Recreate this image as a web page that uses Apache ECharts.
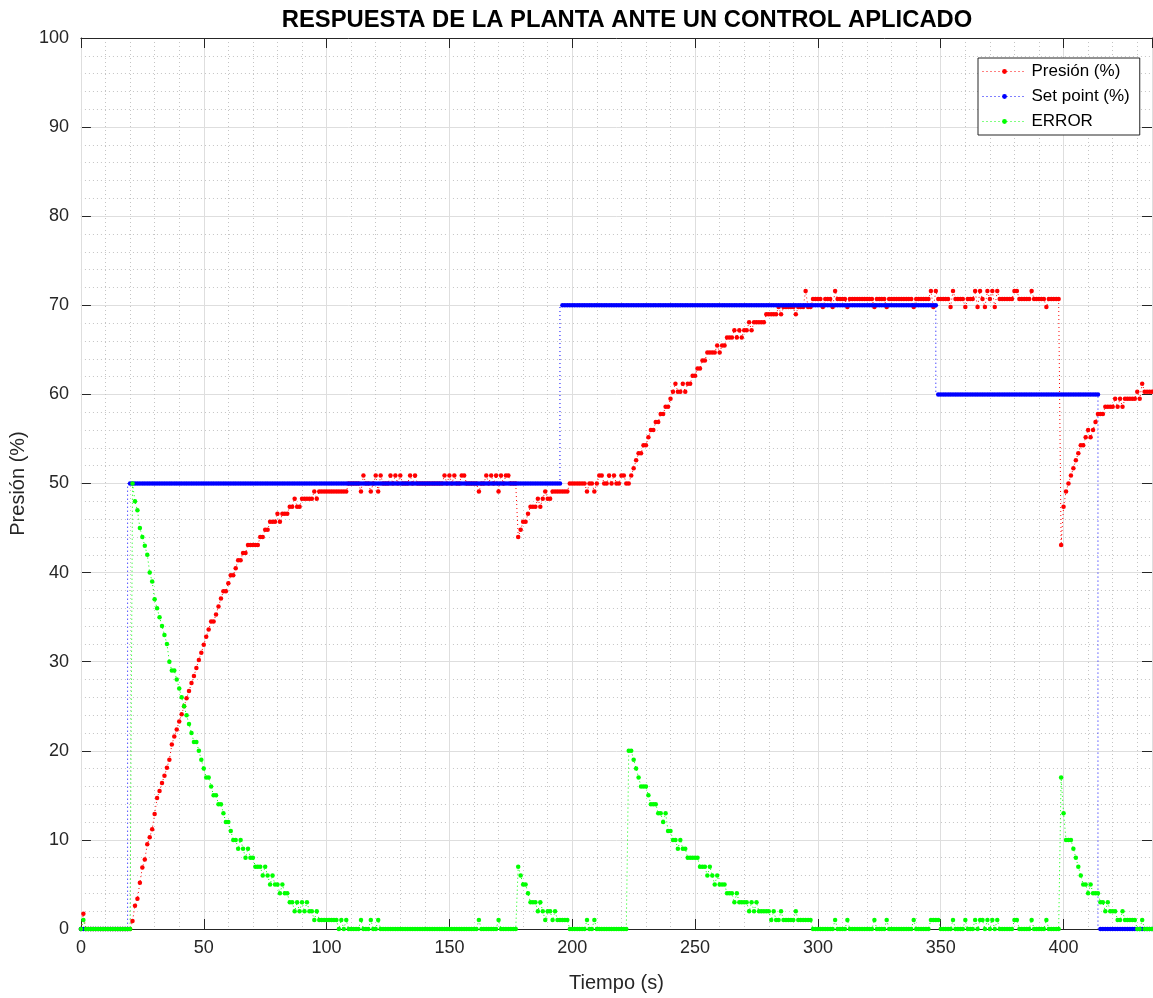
<!DOCTYPE html>
<html lang="es">
<head>
<meta charset="utf-8">
<title>Respuesta de la planta ante un control aplicado</title>
<script src="https://cdn.jsdelivr.net/npm/echarts@6/dist/echarts.min.js"></script>
<style>
  html, body { margin: 0; padding: 0; background: #ffffff; }
  #chart { width: 1153px; height: 998px; }
</style>
</head>
<body>
<div id="chart"></div>
<script>
// Sampling grid of the log: one sample per second, starting at t = 0 s
const T0 = 0;
const DT = 1;

// Measured plant pressure (%), one value per sample
const presion = [
  0, 1.7, 0, 0, 0, 0, 0, 0, 0, 0,
  0, 0, 0, 0, 0, 0, 0, 0, 0, 0,
  0, 0.9, 2.6, 3.4, 5.2, 6.9, 7.8, 9.5, 10.3, 11.2,
  12.9, 14.7, 15.5, 16.4, 17.2, 18.1, 19.0, 20.7, 21.6, 22.4,
  23.3, 24.1, 25.0, 25.9, 26.7, 27.6, 28.4, 29.3, 30.2, 31.0,
  31.9, 32.8, 33.6, 34.5, 34.5, 35.3, 36.2, 37.1, 37.9, 37.9,
  38.8, 39.7, 39.7, 40.5, 41.4, 41.4, 42.2, 42.2, 43.1, 43.1,
  43.1, 43.1, 43.1, 44.0, 44.0, 44.8, 44.8, 45.7, 45.7, 45.7,
  46.6, 45.7, 46.6, 46.6, 46.6, 47.4, 47.4, 48.3, 47.4, 47.4,
  48.3, 48.3, 48.3, 48.3, 48.3, 49.1, 48.3, 49.1, 49.1, 49.1,
  49.1, 49.1, 49.1, 49.1, 49.1, 49.1, 49.1, 49.1, 49.1, 50.0,
  50.0, 50.0, 50.0, 50.0, 49.1, 50.9, 50.0, 50.0, 49.1, 50.0,
  50.9, 49.1, 50.9, 50.0, 50.0, 50.0, 50.9, 50.0, 50.9, 50.0,
  50.9, 50.0, 50.0, 50.0, 50.9, 50.0, 50.9, 50.0, 50.0, 50.0,
  50.0, 50.0, 50.0, 50.0, 50.0, 50.0, 50.0, 50.0, 50.9, 50.0,
  50.9, 50.0, 50.9, 50.0, 50.0, 50.9, 50.9, 50.0, 50.0, 50.0,
  50.0, 50.0, 49.1, 50.0, 50.0, 50.9, 50.0, 50.9, 50.0, 50.9,
  49.1, 50.9, 50.0, 50.9, 50.9, 50.0, 50.0, 50.0, 44.0, 44.8,
  45.7, 45.7, 46.6, 47.4, 47.4, 47.4, 48.3, 47.4, 48.3, 49.1,
  48.3, 48.3, 49.1, 49.1, 49.1, 49.1, 49.1, 49.1, 49.1, 50.0,
  50.0, 50.0, 50.0, 50.0, 50.0, 50.0, 49.1, 50.0, 50.0, 49.1,
  50.0, 50.9, 50.9, 50.0, 50.0, 50.9, 50.0, 50.9, 50.0, 50.0,
  50.9, 50.9, 50.0, 50.0, 50.9, 51.7, 52.6, 53.4, 53.4, 54.3,
  54.3, 55.2, 56.0, 56.0, 56.9, 56.9, 57.8, 57.8, 58.6, 58.6,
  59.5, 60.3, 61.2, 60.3, 60.3, 61.2, 60.3, 61.2, 61.2, 62.1,
  62.1, 62.9, 62.9, 63.8, 63.8, 64.7, 64.7, 64.7, 64.7, 65.5,
  64.7, 65.5, 65.5, 66.4, 66.4, 66.4, 67.2, 66.4, 67.2, 66.4,
  67.2, 67.2, 68.1, 67.2, 68.1, 68.1, 68.1, 68.1, 68.1, 69.0,
  69.0, 69.0, 69.0, 69.0, 69.8, 69.0, 69.8, 69.8, 69.8, 69.8,
  69.8, 69.0, 69.8, 69.8, 69.8, 71.6, 69.8, 69.8, 70.7, 70.7,
  70.7, 70.7, 69.8, 70.7, 70.7, 70.7, 69.8, 71.6, 70.7, 70.7,
  70.7, 70.7, 69.8, 70.7, 70.7, 70.7, 70.7, 70.7, 70.7, 70.7,
  70.7, 70.7, 70.7, 69.8, 70.7, 70.7, 70.7, 70.7, 69.8, 70.7,
  70.7, 70.7, 70.7, 70.7, 70.7, 70.7, 70.7, 70.7, 70.7, 69.8,
  70.7, 70.7, 70.7, 70.7, 70.7, 70.7, 71.6, 69.8, 71.6, 70.7,
  70.7, 70.7, 70.7, 70.7, 69.8, 71.6, 70.7, 70.7, 70.7, 70.7,
  69.8, 70.7, 70.7, 70.7, 71.6, 69.8, 71.6, 70.7, 69.8, 71.6,
  70.7, 71.6, 69.8, 71.6, 70.7, 70.7, 70.7, 70.7, 70.7, 70.7,
  71.6, 71.6, 70.7, 70.7, 70.7, 70.7, 70.7, 71.6, 70.7, 70.7,
  70.7, 70.7, 70.7, 69.8, 70.7, 70.7, 70.7, 70.7, 70.7, 43.1,
  47.4, 49.1, 50.0, 50.9, 51.7, 52.6, 53.4, 54.3, 54.3, 55.2,
  56.0, 55.2, 56.0, 56.9, 57.8, 57.8, 57.8, 58.6, 58.6, 58.6,
  58.6, 59.5, 58.6, 59.5, 58.6, 59.5, 59.5, 59.5, 59.5, 59.5,
  60.3, 59.5, 61.2, 60.3, 60.3, 60.3, 60.3
];

// Set point (%), one value per sample
const setPoint = [
  0, 0, 0, 0, 0, 0, 0, 0, 0, 0,
  0, 0, 0, 0, 0, 0, 0, 0, 0, 0,
  50, 50, 50, 50, 50, 50, 50, 50, 50, 50,
  50, 50, 50, 50, 50, 50, 50, 50, 50, 50,
  50, 50, 50, 50, 50, 50, 50, 50, 50, 50,
  50, 50, 50, 50, 50, 50, 50, 50, 50, 50,
  50, 50, 50, 50, 50, 50, 50, 50, 50, 50,
  50, 50, 50, 50, 50, 50, 50, 50, 50, 50,
  50, 50, 50, 50, 50, 50, 50, 50, 50, 50,
  50, 50, 50, 50, 50, 50, 50, 50, 50, 50,
  50, 50, 50, 50, 50, 50, 50, 50, 50, 50,
  50, 50, 50, 50, 50, 50, 50, 50, 50, 50,
  50, 50, 50, 50, 50, 50, 50, 50, 50, 50,
  50, 50, 50, 50, 50, 50, 50, 50, 50, 50,
  50, 50, 50, 50, 50, 50, 50, 50, 50, 50,
  50, 50, 50, 50, 50, 50, 50, 50, 50, 50,
  50, 50, 50, 50, 50, 50, 50, 50, 50, 50,
  50, 50, 50, 50, 50, 50, 50, 50, 50, 50,
  50, 50, 50, 50, 50, 50, 50, 50, 50, 50,
  50, 50, 50, 50, 50, 50, 70, 70, 70, 70,
  70, 70, 70, 70, 70, 70, 70, 70, 70, 70,
  70, 70, 70, 70, 70, 70, 70, 70, 70, 70,
  70, 70, 70, 70, 70, 70, 70, 70, 70, 70,
  70, 70, 70, 70, 70, 70, 70, 70, 70, 70,
  70, 70, 70, 70, 70, 70, 70, 70, 70, 70,
  70, 70, 70, 70, 70, 70, 70, 70, 70, 70,
  70, 70, 70, 70, 70, 70, 70, 70, 70, 70,
  70, 70, 70, 70, 70, 70, 70, 70, 70, 70,
  70, 70, 70, 70, 70, 70, 70, 70, 70, 70,
  70, 70, 70, 70, 70, 70, 70, 70, 70, 70,
  70, 70, 70, 70, 70, 70, 70, 70, 70, 70,
  70, 70, 70, 70, 70, 70, 70, 70, 70, 70,
  70, 70, 70, 70, 70, 70, 70, 70, 70, 70,
  70, 70, 70, 70, 70, 70, 70, 70, 70, 70,
  70, 70, 70, 70, 70, 70, 70, 70, 70, 60,
  60, 60, 60, 60, 60, 60, 60, 60, 60, 60,
  60, 60, 60, 60, 60, 60, 60, 60, 60, 60,
  60, 60, 60, 60, 60, 60, 60, 60, 60, 60,
  60, 60, 60, 60, 60, 60, 60, 60, 60, 60,
  60, 60, 60, 60, 60, 60, 60, 60, 60, 60,
  60, 60, 60, 60, 60, 60, 60, 60, 60, 60,
  60, 60, 60, 60, 60, 0, 0, 0, 0, 0,
  0, 0, 0, 0, 0, 0, 0, 0, 0, 0,
  0, 0, 0, 0, 0, 0, 0
];

// Control error (%), one value per sample
const error = [
  0, 1, 0, 0, 0, 0, 0, 0, 0, 0,
  0, 0, 0, 0, 0, 0, 0, 0, 0, 0,
  0, 50, 48, 47, 45, 44, 43, 42, 40, 39,
  37, 36, 35, 34, 33, 32, 30, 29, 29, 28,
  27, 26, 25, 24, 23, 22, 21, 21, 20, 19,
  18, 17, 17, 16, 15, 15, 14, 14, 13, 12,
  12, 11, 10, 10, 9, 10, 9, 8, 9, 8,
  8, 7, 7, 7, 6, 7, 6, 5, 6, 5,
  5, 4, 5, 4, 4, 3, 3, 2, 3, 2,
  3, 2, 3, 2, 2, 1, 2, 1, 1, 1,
  1, 1, 1, 1, 1, 0, 1, 0, 1, 0,
  0, 0, 0, 0, 1, 0, 0, 0, 1, 0,
  0, 1, 0, 0, 0, 0, 0, 0, 0, 0,
  0, 0, 0, 0, 0, 0, 0, 0, 0, 0,
  0, 0, 0, 0, 0, 0, 0, 0, 0, 0,
  0, 0, 0, 0, 0, 0, 0, 0, 0, 0,
  0, 0, 1, 0, 0, 0, 0, 0, 0, 0,
  1, 0, 0, 0, 0, 0, 0, 0, 7, 6,
  5, 5, 4, 3, 3, 3, 2, 3, 2, 1,
  2, 2, 1, 2, 1, 1, 1, 1, 1, 0,
  0, 0, 0, 0, 0, 0, 1, 0, 0, 1,
  0, 0, 0, 0, 0, 0, 0, 0, 0, 0,
  0, 0, 0, 20, 20, 19, 18, 17, 16, 16,
  16, 15, 14, 14, 14, 13, 13, 12, 13, 11,
  11, 10, 10, 9, 10, 9, 9, 8, 8, 8,
  8, 8, 7, 7, 7, 6, 7, 6, 5, 6,
  5, 5, 5, 4, 4, 4, 3, 4, 3, 3,
  3, 3, 2, 3, 2, 3, 2, 2, 2, 2,
  2, 1, 2, 1, 1, 2, 1, 1, 1, 1,
  1, 2, 1, 1, 1, 1, 1, 1, 0, 0,
  0, 0, 0, 0, 0, 0, 0, 1, 0, 0,
  0, 0, 1, 0, 0, 0, 0, 0, 0, 0,
  0, 0, 0, 1, 0, 0, 0, 0, 1, 0,
  0, 0, 0, 0, 0, 0, 0, 0, 0, 1,
  0, 0, 0, 0, 0, 0, 1, 1, 1, 1,
  0, 0, 0, 0, 0, 1, 0, 0, 0, 0,
  1, 0, 0, 0, 1, 0, 1, 1, 0, 1,
  0, 1, 0, 1, 0, 0, 0, 0, 0, 0,
  1, 1, 0, 0, 0, 0, 0, 1, 0, 0,
  0, 0, 0, 1, 0, 0, 0, 0, 0, 17,
  13, 10, 10, 10, 9, 8, 7, 6, 5, 5,
  4, 5, 4, 4, 4, 3, 3, 2, 3, 2,
  2, 2, 1, 1, 2, 1, 1, 1, 1, 1,
  0, 0, 1, 0, 0, 0, 0
];

// Axis extents and tick steps
const X_MAX = 436;
const X_STEP = 50;
const X_MINOR_STEP = 10;
const Y_MAX = 100;
const Y_STEP = 10;

const FONT = '"Liberation Sans", Arial, Helvetica, sans-serif';
const INK = '#262626';
const MAJOR_GRID = '#dedede';
const MINOR_GRID = '#c4c4c4';

const withTime = values => values.map((v, i) => [T0 + i * DT, v]);

const lineSeries = (name, values, color, extra) => Object.assign({
  name: name,
  type: 'line',
  color: color,
  data: withTime(values),
  xAxisIndex: 0,
  yAxisIndex: 0,
  symbol: 'circle',
  symbolSize: 4.5,
  showSymbol: true,
  itemStyle: { color: color },
  lineStyle: { color: color, width: 1, type: [1, 3] },
  emphasis: { disabled: true },
  silent: true,
  animation: false
}, extra || {});

const chart = echarts.init(document.getElementById('chart'), null, { renderer: 'canvas' });

chart.setOption({
  backgroundColor: '#ffffff',
  animation: false,
  color: ['#ff0000', '#0000ff', '#00ff00'],
  title: {
    text: 'RESPUESTA DE LA PLANTA ANTE UN CONTROL APLICADO',
    left: 622,
    top: 3,
    textAlign: 'center',
    textStyle: { fontFamily: FONT, fontSize: 23.8, fontWeight: 'bold', color: '#000000' }
  },
  legend: {
    orient: 'vertical',
    left: 978,
    top: 58,
    itemWidth: 44,
    itemHeight: 6,
    itemGap: 8,
    padding: [5, 10, 5, 4],
    backgroundColor: '#ffffff',
    borderColor: INK,
    borderWidth: 1,
    selectedMode: false,
    textStyle: { fontFamily: FONT, fontSize: 17, color: '#000000' },
    data: [
      { name: 'Presión (%)', itemStyle: { color: '#ff0000' }, lineStyle: { color: '#ff0000', width: 1, type: [1, 3] } },
      { name: 'Set point (%)', itemStyle: { color: '#0000ff' }, lineStyle: { color: '#0000ff', width: 1, type: [1, 3] } },
      { name: 'ERROR', itemStyle: { color: '#00ff00' }, lineStyle: { color: '#00ff00', width: 1, type: [1, 3] } }
    ]
  },
  grid: { left: 80, right: 1, top: 38, bottom: 64, containLabel: false },
  xAxis: [
    {
      type: 'value', position: 'bottom', min: 0, max: X_MAX, interval: X_STEP, z: 1,
      name: 'Tiempo (s)', nameLocation: 'middle', nameGap: 44,
      nameTextStyle: { fontFamily: FONT, fontSize: 20, color: INK },
      axisLine: { show: true, onZero: false, lineStyle: { color: INK, width: 1 } },
      axisTick: { show: true, inside: true, length: 10, lineStyle: { color: INK } },
      axisLabel: { show: true, margin: 10, fontFamily: FONT, fontSize: 18, color: INK, showMaxLabel: false },
      splitLine: { show: true, lineStyle: { color: MAJOR_GRID, width: 1 } }
    },
    {
      type: 'value', position: 'top', min: 0, max: X_MAX, interval: X_STEP, z: 1,
      axisLine: { show: true, onZero: false, lineStyle: { color: INK, width: 1 } },
      axisTick: { show: true, inside: true, length: 10, lineStyle: { color: INK } },
      axisLabel: { show: false },
      splitLine: { show: false }
    },
    {
      // minor vertical grid, every 10 s
      type: 'value', position: 'bottom', min: 0, max: X_MAX, interval: X_MINOR_STEP, z: 0,
      axisLine: { show: false },
      axisTick: { show: false },
      axisLabel: { show: false },
      splitLine: { show: true, lineStyle: { color: MINOR_GRID, width: 1, type: [1, 3] } }
    }
  ],
  yAxis: [
    {
      type: 'value', position: 'left', min: 0, max: Y_MAX, interval: Y_STEP,
      name: 'Presión (%)', nameLocation: 'middle', nameGap: 39, nameRotate: 90,
      nameTextStyle: { fontFamily: FONT, fontSize: 20, color: INK },
      axisLine: { show: true, onZero: false, lineStyle: { color: INK, width: 1 } },
      axisTick: { show: true, inside: true, length: 10, lineStyle: { color: INK } },
      axisLabel: { show: true, margin: 12, fontFamily: FONT, fontSize: 18, color: INK },
      splitLine: { show: true, lineStyle: { color: MAJOR_GRID, width: 1 } },
      minorTick: { show: false, splitNumber: 5 },
      minorSplitLine: { show: true, lineStyle: { color: MINOR_GRID, width: 1, type: [1, 3] } }
    },
    {
      type: 'value', position: 'right', min: 0, max: Y_MAX, interval: Y_STEP,
      axisLine: { show: true, onZero: false, lineStyle: { color: INK, width: 1 } },
      axisTick: { show: true, inside: true, length: 10, lineStyle: { color: INK } },
      axisLabel: { show: false },
      splitLine: { show: false }
    }
  ],
  series: [
    lineSeries('Presión (%)', presion, '#ff0000'),
    lineSeries('Set point (%)', setPoint, '#0000ff', { step: 'start' }),
    lineSeries('ERROR', error, '#00ff00')
  ]
});
</script>
</body>
</html>
